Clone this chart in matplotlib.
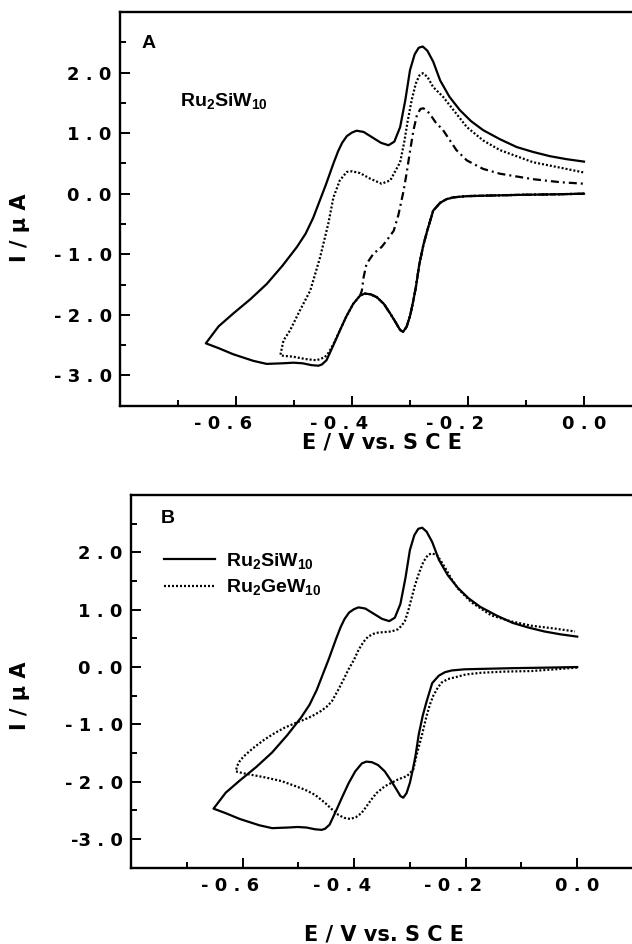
import matplotlib
matplotlib.use("Agg")
import matplotlib.pyplot as plt
import matplotlib.transforms as mtransforms

plt.rcParams['font.family'] = ['Liberation Sans', 'DejaVu Sans']
plt.rcParams['font.weight'] = 'bold'
plt.rcParams['mathtext.fontset'] = 'custom'
plt.rcParams['mathtext.rm'] = 'Liberation Sans:bold'
plt.rcParams['mathtext.bf'] = 'Liberation Sans:bold'
plt.rcParams['mathtext.it'] = 'Liberation Sans:bold'
plt.rcParams['mathtext.default'] = 'bf'

# --- data (E in V vs SCE, I in uA) ---
# cathodic scan shared by all Ru2SiW10 curves (0 V down to -0.386 V)
red_common_E = [0.0, -0.05, -0.116, -0.16, -0.202, -0.225, -0.237, -0.248, -0.26,
                -0.27, -0.277, -0.284, -0.29, -0.295, -0.30, -0.306, -0.312, -0.317,
                -0.325, -0.334, -0.345, -0.357, -0.368, -0.378, -0.386]
red_common_I = [0.0, -0.01, -0.02, -0.03, -0.04, -0.06, -0.09, -0.15, -0.28,
                -0.6, -0.85, -1.17, -1.55, -1.8, -2.02, -2.2, -2.28, -2.25,
                -2.12, -1.98, -1.82, -1.71, -1.66, -1.65, -1.68]

# Ru2SiW10, full window to -0.65 V (solid)
si_red_E = [-0.398, -0.41, -0.421, -0.432, -0.444, -0.452, -0.458, -0.47, -0.485,
            -0.501, -0.52, -0.547, -0.57, -0.605, -0.63, -0.652]
si_red_I = [-1.82, -2.03, -2.26, -2.5, -2.75, -2.82, -2.84, -2.83, -2.8,
            -2.79, -2.8, -2.81, -2.76, -2.65, -2.55, -2.47]
si_ox_E = [-0.652, -0.63, -0.605, -0.575, -0.547, -0.52, -0.495, -0.48, -0.467,
           -0.455, -0.445, -0.432, -0.424, -0.417, -0.409, -0.4, -0.392, -0.38,
           -0.365, -0.35, -0.337, -0.327, -0.317, -0.308, -0.3, -0.292, -0.285,
           -0.278, -0.27, -0.26, -0.248, -0.232, -0.214, -0.195, -0.174, -0.145,
           -0.116, -0.088, -0.059, -0.03, 0.0]
si_ox_I = [-2.47, -2.19, -1.98, -1.74, -1.49, -1.19, -0.88, -0.66, -0.4,
           -0.1, 0.15, 0.5, 0.7, 0.84, 0.95, 1.01, 1.04, 1.02,
           0.93, 0.84, 0.8, 0.86, 1.1, 1.55, 2.04, 2.3, 2.41,
           2.43, 2.36, 2.18, 1.87, 1.6, 1.38, 1.2, 1.05, 0.9,
           0.77, 0.69, 0.62, 0.57, 0.53]

# Ru2SiW10, window to -0.52 V (dotted, panel A)
mid_red_E = [-0.398, -0.41, -0.421, -0.432, -0.44, -0.447, -0.461, -0.48, -0.502,
             -0.515, -0.523]
mid_red_I = [-1.82, -2.03, -2.26, -2.48, -2.62, -2.7, -2.75, -2.73, -2.69,
             -2.68, -2.67]
mid_ox_E = [-0.523, -0.518, -0.507, -0.49, -0.472, -0.455, -0.441, -0.432, -0.421,
            -0.409, -0.4, -0.386, -0.369, -0.349, -0.334, -0.317, -0.31, -0.304,
            -0.297, -0.29, -0.284, -0.278, -0.27, -0.26, -0.243, -0.225, -0.202,
            -0.174, -0.145, -0.088, -0.041, 0.0]
mid_ox_I = [-2.64, -2.42, -2.26, -1.93, -1.6, -1.05, -0.5, -0.06, 0.22,
            0.36, 0.37, 0.34, 0.25, 0.165, 0.22, 0.52, 0.85, 1.2,
            1.55, 1.82, 1.95, 1.99, 1.93, 1.76, 1.6, 1.38, 1.1,
            0.88, 0.72, 0.52, 0.43, 0.35]

# Ru2SiW10, window to -0.386 V (dash-dot, panel A)
short_ox_E = [-0.386, -0.383, -0.38, -0.375, -0.363, -0.349, -0.34, -0.328, -0.32,
              -0.311, -0.306, -0.3, -0.294, -0.288, -0.282, -0.277, -0.272, -0.266,
              -0.256, -0.243, -0.22, -0.202, -0.174, -0.145, -0.088, -0.041, 0.0]
short_ox_I = [-1.68, -1.6, -1.38, -1.16, -0.99, -0.88, -0.77, -0.61, -0.35,
              0.05, 0.33, 0.7, 1.05, 1.3, 1.4, 1.41, 1.38, 1.32,
              1.18, 1.05, 0.72, 0.55, 0.41, 0.33, 0.24, 0.19, 0.165]

# Ru2GeW10 (dotted, panel B)
ge_E = [0.0, -0.04, -0.082, -0.13, -0.172, -0.2, -0.219, -0.232, -0.243,
        -0.25, -0.258, -0.264, -0.27, -0.279, -0.287, -0.294, -0.305, -0.321,
        -0.345, -0.36, -0.369, -0.38, -0.387, -0.397, -0.407, -0.418, -0.428,
        -0.44, -0.452, -0.47, -0.488, -0.51, -0.53, -0.557, -0.584, -0.6,
        -0.612, -0.61, -0.605, -0.598, -0.59, -0.578, -0.56, -0.542, -0.525, -0.506,
        -0.49, -0.476, -0.46, -0.45, -0.44, -0.428, -0.418, -0.41, -0.4,
        -0.392, -0.383, -0.375, -0.365, -0.357, -0.345, -0.333, -0.321, -0.315,
        -0.309, -0.303, -0.297, -0.291, -0.284, -0.276, -0.268, -0.262, -0.252,
        -0.245, -0.235, -0.225, -0.213, -0.19, -0.154, -0.12, -0.082, -0.04, -0.004]
ge_I = [-0.01, -0.04, -0.07, -0.08, -0.1, -0.13, -0.18, -0.21, -0.27,
        -0.36, -0.5, -0.65, -0.85, -1.21, -1.5, -1.79, -1.9, -1.96,
        -2.08, -2.2, -2.31, -2.46, -2.55, -2.62, -2.65, -2.63, -2.58,
        -2.48, -2.37, -2.23, -2.14, -2.06, -1.99, -1.93, -1.88, -1.85,
        -1.82, -1.73, -1.64, -1.56, -1.49, -1.39, -1.26, -1.15, -1.06, -0.98,
        -0.92, -0.86, -0.77, -0.7, -0.6, -0.39, -0.2, -0.04, 0.13,
        0.3, 0.44, 0.53, 0.58, 0.6, 0.61, 0.62, 0.66, 0.72,
        0.8, 0.98, 1.2, 1.42, 1.63, 1.83, 1.95, 1.98, 1.96,
        1.86, 1.7, 1.53, 1.36, 1.13, 0.9, 0.8, 0.72, 0.67, 0.62]

x_major = [-0.6, -0.4, -0.2, 0.0]
x_labels = ['- 0 . 6', '- 0 . 4', '- 0 . 2', '0 . 0']
y_major = [-3.0, -2.0, -1.0, 0.0, 1.0, 2.0]
y_labels_a = ['- 3 . 0', '- 2 . 0', '- 1 . 0', '0 . 0', '1 . 0', '2 . 0']
y_labels_b = ['-3 . 0', '- 2 . 0', '- 1 . 0', '0 . 0', '1 . 0', '2 . 0']

tick_font = dict(family='DejaVu Sans', weight='bold', size=13)
label_font = dict(family='DejaVu Sans', weight='bold', size=15)

dotted = (0, (0.9, 0.9))
dashdot = (0, (3.6, 1.8, 0.9, 1.8))
LW = 1.6

full_red_E = red_common_E + si_red_E
full_red_I = red_common_I + si_red_I


def style_axes(fig, ax, ylabels):
    ax.set_xlim(-0.8, 0.1)
    ax.set_ylim(-3.5, 3.0)
    ax.set_xticks(x_major)
    ax.set_xticklabels(x_labels, fontdict=tick_font)
    ax.set_xticks([-0.7, -0.5, -0.3, -0.1], minor=True)
    ax.set_yticks(y_major)
    ax.set_yticklabels(ylabels, fontdict=tick_font)
    ax.set_yticks([-2.5, -1.5, -0.5, 0.5, 1.5, 2.5], minor=True)
    ax.tick_params(which='both', direction='in', width=1.4, top=False, right=False)
    ax.tick_params(which='major', length=7)
    ax.tick_params(which='minor', length=4.5)
    ax.tick_params(axis='x', pad=7)
    ax.tick_params(axis='y', pad=6)
    for sp in ax.spines.values():
        sp.set_linewidth(1.7)
    ax.spines['right'].set_visible(False)
    # the minus sign hangs to the left of the number, as in the original
    shift = mtransforms.ScaledTranslation(-9 / 72, 0, fig.dpi_scale_trans)
    for lab in ax.get_xticklabels():
        if lab.get_text().startswith('-'):
            lab.set_transform(lab.get_transform() + shift)


fig = plt.figure(figsize=(6.32, 9.44), dpi=100)

# panel A
axa = fig.add_axes([120 / 632, 1 - 405.7 / 944, 522 / 632, 393.7 / 944])
axa.plot(full_red_E + si_ox_E, full_red_I + si_ox_I, color='black', lw=LW)
axa.plot(red_common_E + mid_red_E + mid_ox_E, red_common_I + mid_red_I + mid_ox_I,
         color='black', lw=LW, linestyle=dotted)
axa.plot(red_common_E + short_ox_E, red_common_I + short_ox_I,
         color='black', lw=LW, linestyle=dashdot)
style_axes(fig, axa, y_labels_a)
axa.text(0.042, 0.909, 'A', transform=axa.transAxes, fontsize=14,
         fontweight='bold', va='baseline')
axa.text(0.115, 0.761, r'$Ru_2SiW_{10}$', transform=axa.transAxes, fontsize=14,
         va='baseline')

# panel B
axb = fig.add_axes([131 / 632, 1 - 867.7 / 944, 502 / 632, 372.7 / 944])
axb.plot(full_red_E + si_ox_E, full_red_I + si_ox_I, color='black', lw=LW,
         label=r'$Ru_2SiW_{10}$')
axb.plot(ge_E, ge_I, color='black', lw=LW, linestyle=dotted,
         label=r'$Ru_2GeW_{10}$')
style_axes(fig, axb, y_labels_b)
axb.text(0.06, 0.924, 'B', transform=axb.transAxes, fontsize=14,
         fontweight='bold', va='baseline')
axb.legend(loc='upper left', bbox_to_anchor=(0.066, 0.851), frameon=False,
           fontsize=14, handlelength=2.6, handletextpad=0.6, labelspacing=0.35,
           borderpad=0, borderaxespad=0)

# axis titles
fig.text(20 / 632, 1 - 228 / 944, 'I / \u03bc A', rotation=90, ha='center',
         va='center', **label_font)
fig.text(382 / 632, 1 - 442 / 944, 'E / V vs. S C E', ha='center', va='center',
         **label_font)
fig.text(20 / 632, 1 - 696 / 944, 'I / \u03bc A', rotation=90, ha='center',
         va='center', **label_font)
fig.text(384 / 632, 1 - 935 / 944, 'E / V vs. S C E', ha='center', va='center',
         **label_font)

fig.savefig('out.png', dpi=100)
